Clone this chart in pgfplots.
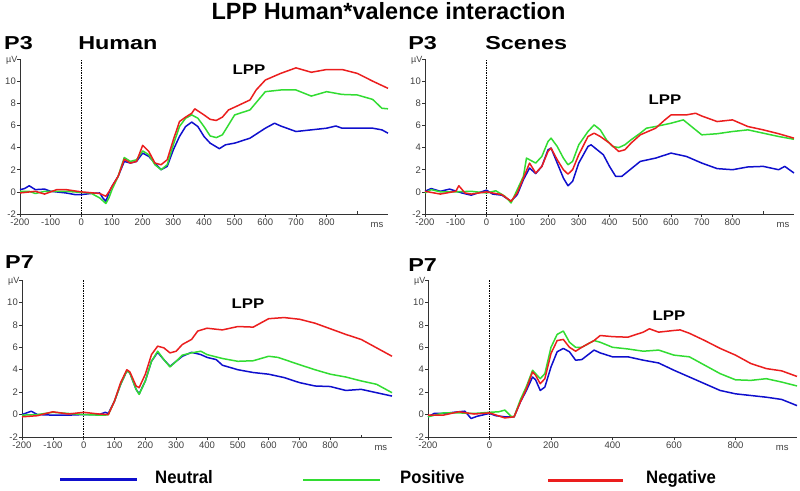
\documentclass[border=0pt]{standalone}
\usepackage{pgfplots}
\pgfplotsset{compat=1.18}
\usepackage{fontspec}
\setmainfont{Liberation Sans}
\definecolor{cN}{RGB}{15,15,205}
\definecolor{cP}{RGB}{50,220,50}
\definecolor{cR}{RGB}{235,30,30}
\pgfplotsset{
  erp/.style={
    scale only axis,
    anchor=south west,
    xmin=-200, xmax=1000, ymin=-2, ymax=12,
    axis x line*=bottom, axis y line*=left,
    axis line style={black!80, line width=0.8pt, -},
    ytick={-2,0,2,4,6,8,10},
    extra y ticks={12}, extra y tick labels={},
    tick align=outside,
    major tick length=3pt,
    tick style={black!80, line width=0.6pt},
    tick label style={font=\fontsize{9.5}{10}\selectfont, text=black!75},
    /pgf/number format/assume math mode=true,
    yticklabel style={inner sep=1pt},
    xticklabel style={inner sep=1.5pt},
    clip=false,
  },
  every axis plot/.append style={line width=1.5pt, line join=round},
}
\newcommand{\lab}[1]{{\fontsize{18.7}{20}\selectfont\bfseries #1}}
\newcommand{\lpp}{{\fontsize{14}{15}\selectfont\bfseries LPP}}
\begin{document}
\begin{tikzpicture}
\useasboundingbox (0,0) rectangle (800pt,490pt);

% ---------------- P3 Human ----------------
\begin{axis}[erp, at={(20pt,276pt)}, width=368pt, height=155pt,
  xtick={-200,-100,...,800}, extra x ticks={900}, extra x tick labels={},
  extra x tick style={tick align=inside, major tick length=2.5pt}]
\addplot[black, densely dotted, line width=0.6pt] coordinates {(0,-2) (0,12)};
\addplot[cN] coordinates {(-200,0.2)(-185,0.3)(-170,0.55)(-150,0.2)(-120,0.25)(-100,0.05)(-50,-0.1)(-20,-0.25)(0,-0.25)(30,-0.15)(60,-0.1)(70,-0.55)(80,-0.85)(90,-0.1)(100,0.5)(120,1.4)(140,2.75)(160,2.6)(180,2.75)(200,3.5)(220,3.2)(240,2.6)(260,2.0)(280,2.3)(300,3.8)(320,5.0)(340,5.9)(360,6.3)(380,5.9)(400,5.0)(420,4.4)(450,3.9)(470,4.25)(500,4.4)(550,4.85)(600,5.75)(630,6.2)(650,5.95)(700,5.45)(750,5.6)(800,5.75)(830,5.95)(850,5.75)(900,5.75)(950,5.75)(980,5.6)(1000,5.3)};
\addplot[cP] coordinates {(-200,0.05)(-170,0.05)(-150,-0.15)(-120,0.05)(-50,0.05)(0,-0.05)(30,-0.1)(60,-0.55)(80,-1.05)(90,-0.55)(100,0.2)(120,1.4)(140,3.1)(160,2.75)(180,2.9)(200,3.7)(220,3.35)(240,2.45)(260,2.0)(280,2.45)(300,4.25)(320,5.9)(340,6.65)(360,6.95)(380,6.65)(400,5.9)(420,5.05)(440,4.9)(460,5.15)(480,6.05)(500,6.95)(550,7.4)(600,9.05)(650,9.2)(700,9.2)(750,8.65)(800,9.05)(850,8.8)(900,8.75)(950,8.35)(980,7.55)(1000,7.5)};
\addplot[cR] coordinates {(-200,-0.1)(-150,0.05)(-120,-0.2)(-80,0.2)(-50,0.2)(0,0)(60,-0.15)(80,-0.4)(90,0)(100,0.5)(120,1.4)(140,2.95)(160,2.6)(180,2.75)(200,4.2)(220,3.65)(240,2.6)(260,2.45)(280,2.9)(300,4.7)(320,6.35)(340,6.75)(360,7.1)(370,7.5)(400,6.95)(420,6.55)(440,6.45)(460,6.75)(480,7.4)(500,7.65)(550,8.3)(570,9.2)(600,10.1)(650,10.7)(700,11.2)(750,10.8)(800,11.05)(850,11.05)(900,10.7)(950,10.0)(1000,9.35)};
\node[anchor=east, font=\fontsize{9}{10}\selectfont, text=black!75, inner sep=0.5pt] at (rel axis cs:0,1) [xshift=-2pt, yshift=-1pt] {µV};
\node[font=\fontsize{9.5}{10}\selectfont, text=black!75] at (rel axis cs:0.97,0) [yshift=-11pt] {ms};
\end{axis}

% ---------------- P3 Scenes ----------------
\begin{axis}[erp, at={(425pt,276pt)}, width=369pt, height=155pt,
  xtick={-200,-100,...,800}, extra x ticks={900}, extra x tick labels={},
  extra x tick style={tick align=inside, major tick length=2.5pt}]
\addplot[black, densely dotted, line width=0.6pt] coordinates {(0,-2) (0,12)};
\addplot[cN] coordinates {(-200,0.05)(-180,0.3)(-150,0.05)(-120,0.25)(-80,-0.1)(-50,-0.3)(0,0.15)(20,-0.2)(50,-0.3)(80,-0.85)(100,-0.25)(120,1.1)(140,2.15)(160,1.65)(180,2.3)(200,3.8)(210,3.95)(230,2.6)(250,1.25)(265,0.55)(280,0.95)(300,2.6)(330,4.1)(340,4.25)(360,3.8)(380,3.35)(400,2.3)(420,1.4)(440,1.4)(460,1.85)(500,2.75)(550,3.05)(600,3.5)(650,3.2)(700,2.6)(750,2.1)(800,2.0)(850,2.25)(900,2.3)(950,2.0)(970,2.3)(1000,1.7)};
\addplot[cP] coordinates {(-200,-0.1)(-180,0.2)(-150,0)(-100,0)(-50,0.05)(0,-0.1)(30,0.1)(60,-0.4)(80,-1.0)(100,0.2)(120,1.4)(130,3.05)(160,2.6)(180,3.2)(200,4.55)(210,4.85)(230,4.1)(250,3.05)(265,2.45)(280,2.75)(300,4.25)(330,5.45)(350,6.05)(370,5.6)(390,4.7)(410,4.1)(430,4.0)(450,4.25)(470,4.7)(500,5.3)(520,5.75)(550,5.9)(600,6.2)(640,6.5)(660,6.05)(700,5.15)(750,5.25)(800,5.45)(850,5.6)(900,5.3)(950,5.0)(1000,4.75)};
\addplot[cR] coordinates {(-200,0.05)(-170,-0.1)(-150,-0.2)(-100,0.05)(-90,0.55)(-70,-0.1)(-50,-0.2)(0,0)(50,-0.25)(80,-0.85)(100,-0.1)(120,1.25)(140,2.6)(160,1.7)(180,2.3)(200,3.65)(210,3.95)(230,2.9)(250,2.0)(265,1.6)(280,2.0)(300,3.35)(330,5.0)(350,5.3)(370,5.0)(400,4.4)(430,3.65)(450,3.8)(470,4.4)(500,5.15)(550,5.75)(580,6.5)(600,6.95)(650,6.95)(680,7.1)(700,6.85)(750,6.35)(800,6.5)(850,5.9)(900,5.6)(950,5.25)(1000,4.85)};
\node[anchor=east, font=\fontsize{9}{10}\selectfont, text=black!75, inner sep=0.5pt] at (rel axis cs:0,1) [xshift=-2pt, yshift=-1pt] {µV};
\node[font=\fontsize{9.5}{10}\selectfont, text=black!75] at (rel axis cs:0.97,0) [yshift=-11pt] {ms};
\end{axis}

% ---------------- P7 Human ----------------
\begin{axis}[erp, at={(22pt,53pt)}, width=370pt, height=157pt,
  xtick={-200,-100,...,800}, extra x ticks={900}, extra x tick labels={},
  extra x tick style={tick align=inside, major tick length=2.5pt}]
\addplot[black, densely dotted, line width=0.6pt] coordinates {(0,-2) (0,12)};
\addplot[cN] coordinates {(-200,0)(-170,0.3)(-150,0)(-100,-0.05)(-50,-0.05)(0,0)(50,0)(70,0.2)(80,0.1)(100,1.2)(120,2.7)(140,3.9)(150,3.7)(170,2.25)(180,1.85)(200,3.0)(220,4.75)(240,5.55)(260,4.9)(280,4.3)(300,4.75)(320,5.2)(350,5.55)(380,5.35)(400,5.1)(430,4.9)(450,4.4)(500,4.0)(550,3.75)(600,3.6)(650,3.3)(700,2.85)(750,2.55)(800,2.5)(850,2.15)(900,2.25)(950,1.95)(1000,1.65)};
\addplot[cP] coordinates {(-200,-0.05)(-150,0)(-100,0.2)(-50,0.1)(0,0)(50,-0.05)(70,-0.05)(80,0)(100,1.2)(120,2.7)(140,3.9)(150,3.7)(170,2.25)(180,1.8)(200,3.0)(220,4.75)(240,5.65)(260,4.9)(280,4.25)(300,4.75)(320,5.3)(350,5.5)(380,5.65)(400,5.35)(450,5.0)(500,4.75)(550,4.8)(600,5.2)(630,5.1)(700,4.45)(750,4.0)(800,3.6)(850,3.35)(900,3.0)(950,2.7)(1000,1.95)};
\addplot[cR] coordinates {(-200,-0.2)(-150,-0.1)(-100,0.25)(-50,0.05)(0,0.2)(50,0.05)(80,0)(100,1.2)(120,2.85)(140,4.0)(150,3.8)(170,2.55)(180,2.4)(200,3.6)(220,5.35)(240,6.1)(260,5.95)(280,5.5)(300,5.65)(320,6.25)(350,6.7)(370,7.45)(400,7.7)(450,7.55)(500,7.85)(550,7.8)(600,8.55)(650,8.65)(700,8.5)(750,8.15)(800,7.65)(850,7.15)(900,6.7)(950,5.95)(1000,5.2)};
\node[anchor=east, font=\fontsize{9}{10}\selectfont, text=black!75, inner sep=0.5pt] at (rel axis cs:0,1) [xshift=-2pt, yshift=-1pt] {µV};
\node[font=\fontsize{9.5}{10}\selectfont, text=black!75] at (rel axis cs:0.97,0) [yshift=-11pt] {ms};
\end{axis}

% ---------------- P7 Scenes ----------------
\begin{axis}[erp, at={(428pt,53pt)}, width=369pt, height=157pt,
  xtick={-200,0,...,800}]
\addplot[black, densely dotted, line width=0.6pt] coordinates {(0,-2) (0,12)};
\addplot[cN] coordinates {(-200,-0.2)(-180,0.1)(-150,0.1)(-100,0.25)(-80,0.3)(-60,-0.35)(-40,-0.15)(0,0.1)(20,-0.1)(50,-0.2)(80,-0.2)(100,1.1)(120,2.15)(140,3.35)(150,3.1)(165,2.15)(180,2.45)(200,4.25)(220,5.6)(240,5.9)(260,5.6)(280,4.85)(300,4.9)(340,5.75)(360,5.5)(400,5.15)(450,5.15)(500,4.85)(550,4.6)(600,3.95)(650,3.35)(700,2.75)(750,2.15)(800,1.85)(850,1.7)(900,1.55)(950,1.35)(1000,0.8)};
\addplot[cP] coordinates {(-200,-0.2)(-150,0.15)(-100,0.15)(-50,0.1)(0,0.2)(30,0.25)(50,0.4)(70,-0.15)(80,-0.2)(100,1.3)(120,2.5)(140,3.95)(150,3.65)(165,3.2)(180,3.65)(200,6.0)(220,7.15)(240,7.45)(260,6.45)(280,6.0)(300,6.0)(340,6.6)(360,6.45)(400,6.0)(450,5.85)(500,5.65)(550,5.75)(600,5.3)(650,5.15)(700,4.4)(750,3.65)(800,3.1)(850,3.05)(900,3.2)(950,2.9)(1000,2.55)};
\addplot[cR] coordinates {(-200,-0.05)(-150,-0.05)(-100,0.25)(-50,0.05)(0,0.15)(50,-0.3)(80,-0.2)(100,1.1)(120,2.3)(140,3.8)(150,3.5)(165,2.75)(180,3.2)(200,5.45)(220,6.6)(240,6.7)(260,6.0)(280,5.65)(300,6.0)(340,6.6)(360,7.05)(400,6.95)(450,6.9)(500,7.35)(520,7.65)(550,7.35)(600,7.5)(620,7.55)(650,7.25)(700,6.6)(750,5.9)(800,5.3)(850,4.55)(900,4.1)(950,3.9)(1000,3.4)};
\node[anchor=east, font=\fontsize{9}{10}\selectfont, text=black!75, inner sep=0.5pt] at (rel axis cs:0,1) [xshift=-2pt, yshift=-1pt] {µV};
\node[font=\fontsize{9.5}{10}\selectfont, text=black!75] at (rel axis cs:0.96,0) [yshift=-11pt] {ms};
\end{axis}

% ---------------- texts ----------------
\node[anchor=base, font=\fontsize{23.5}{25}\selectfont\bfseries, inner sep=0pt] at (388.5pt,470pt) {LPP Human*valence interaction};
\node[anchor=base west, inner sep=0pt, xscale=1.25] at (4pt,440pt) {\lab{P3}};
\node[anchor=base west, inner sep=0pt, xscale=1.25] at (78pt,440pt) {\lab{Human}};
\node[anchor=base west, inner sep=0pt, xscale=1.25] at (408pt,440pt) {\lab{P3}};
\node[anchor=base west, inner sep=0pt, xscale=1.25] at (485pt,440pt) {\lab{Scenes}};
\node[anchor=base west, inner sep=0pt, xscale=1.25] at (5pt,221pt) {\lab{P7}};
\node[anchor=base west, inner sep=0pt, xscale=1.25] at (408pt,218pt) {\lab{P7}};
\node[inner sep=0pt, xscale=1.2] at (249pt,420pt) {\lpp};
\node[inner sep=0pt, xscale=1.2] at (665pt,390pt) {\lpp};
\node[inner sep=0pt, xscale=1.2] at (248pt,186pt) {\lpp};
\node[inner sep=0pt, xscale=1.2] at (669pt,174pt) {\lpp};

% legend
\draw[cN, line width=2.4pt] (60pt,10.5pt) -- (137pt,10.5pt);
\draw[cP, line width=2.4pt] (303pt,10pt) -- (380pt,10pt);
\draw[cR, line width=2.4pt] (548pt,9.5pt) -- (623pt,9.5pt);
\node[anchor=base west, inner sep=0pt, xscale=0.93, font=\fontsize{18}{19}\selectfont\bfseries] at (155pt,7pt) {Neutral};
\node[anchor=base west, inner sep=0pt, xscale=0.93, font=\fontsize{18}{19}\selectfont\bfseries] at (400pt,7pt) {Positive};
\node[anchor=base west, inner sep=0pt, xscale=0.93, font=\fontsize{18}{19}\selectfont\bfseries] at (646pt,7pt) {Negative};
\end{tikzpicture}
\end{document}
